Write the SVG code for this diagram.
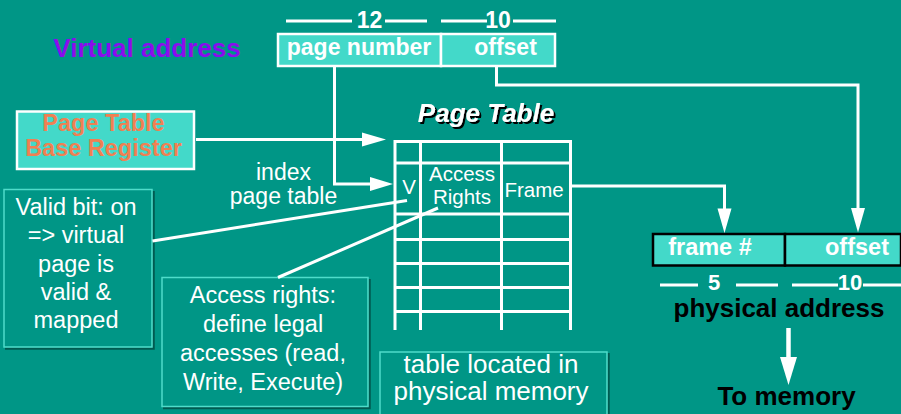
<svg xmlns="http://www.w3.org/2000/svg" width="901" height="414" viewBox="0 0 901 414">
  <defs>
    <style>
      .sans { font-family: "Liberation Sans", Arial, sans-serif; }
      .bold { font-weight: bold; }
      .w { fill: #ffffff; }
      .field { fill: #43d9c9; stroke: #ffffff; stroke-width: 2.5; }
      .pfield { fill: #43d9c9; stroke: #000000; stroke-width: 2.5; }
      .wire { fill: none; stroke: #ffffff; stroke-width: 3; }
      .grid { fill: none; stroke: #ffffff; stroke-width: 3; }
      .note { fill: #009686; stroke: #4fdcca; stroke-width: 1.5; }
      .shade { fill: none; stroke: #005a50; stroke-width: 2.5; }
      .head { fill: #ffffff; }
    </style>
    <filter id="hardShadow" x="-10%" y="-20%" width="130%" height="150%">
      <feDropShadow dx="2" dy="2" stdDeviation="0" flood-color="#000000" flood-opacity="1"/>
    </filter>
  </defs>

  <!-- background -->
  <rect x="0" y="0" width="901" height="414" fill="#009686"/>

  <!-- virtual address -->
  <g id="virtual-address-label">
    <text class="sans bold" x="147" y="56.5" font-size="26" fill="#8a0cee" text-anchor="middle">Virtual address</text>
  </g>
  <g id="virtual-address">
    <line class="wire" x1="286" y1="21" x2="352" y2="21"/>
    <line class="wire" x1="385" y1="21" x2="427" y2="21"/>
    <text class="sans bold w" x="369.5" y="27.5" font-size="23" text-anchor="middle">12</text>
    <line class="wire" x1="441" y1="21" x2="487" y2="21"/>
    <line class="wire" x1="513" y1="21" x2="556" y2="21"/>
    <text class="sans bold w" x="498" y="27.5" font-size="23" text-anchor="middle">10</text>
    <rect class="field" x="278" y="34" width="163" height="32"/>
    <rect class="field" x="441" y="34" width="114" height="32"/>
    <text class="sans bold w" x="359" y="55" font-size="23" text-anchor="middle">page number</text>
    <text class="sans bold w" x="505.5" y="55" font-size="23" text-anchor="middle">offset</text>
  </g>

  <!-- page table base register -->
  <g id="base-register">
    <rect class="field" x="17" y="111.5" width="177" height="57.5"/>
    <text class="sans bold" x="103.5" y="131" font-size="23.5" fill="#f08052" text-anchor="middle">Page Table</text>
    <text class="sans bold" x="103.5" y="155.5" font-size="23.5" fill="#f08052" text-anchor="middle">Base Register</text>
  </g>

  <!-- page table -->
  <g id="page-table">
    <text class="sans bold w" x="486" y="121.7" font-size="26" font-style="italic" text-anchor="middle" filter="url(#hardShadow)">Page Table</text>
    <path class="grid" d="M395,141.5 H572 M395,163 H572 M395,214 H572 M395,239.5 H572 M395,263.5 H572 M395,287.5 H572 M395,311.5 H572"/>
    <path class="grid" d="M395,140 V330 M420.5,141.5 V330 M501.5,141.5 V330 M570.5,140 V330"/>
    <text class="sans w" x="409" y="194" font-size="20.5" text-anchor="middle">V</text>
    <text class="sans w" x="462" y="181" font-size="20.5" text-anchor="middle">Access</text>
    <text class="sans w" x="462" y="203.5" font-size="20.5" text-anchor="middle">Rights</text>
    <text class="sans w" x="534" y="197" font-size="20.5" text-anchor="middle">Frame</text>
  </g>

  <g id="index-label">
    <text class="sans w" x="283.5" y="179.5" font-size="23" text-anchor="middle">index</text>
    <text class="sans w" x="283.5" y="203.5" font-size="23" text-anchor="middle">page table</text>
  </g>

  <!-- annotation boxes -->
  <g id="valid-bit-note">
    <polyline class="shade" points="153.5,191 153.5,348.5 5,348.5"/>
    <rect class="note" x="4" y="189.5" width="148" height="157.5"/>
    <text class="sans w" x="76" y="215" font-size="23.5" text-anchor="middle">Valid bit: on</text>
    <text class="sans w" x="76" y="243.3" font-size="23.5" text-anchor="middle">=&gt; virtual</text>
    <text class="sans w" x="76" y="271.6" font-size="23.5" text-anchor="middle">page is</text>
    <text class="sans w" x="76" y="300" font-size="23.5" text-anchor="middle">valid &amp;</text>
    <text class="sans w" x="76" y="328" font-size="23.5" text-anchor="middle">mapped</text>
  </g>

  <g id="access-rights-note">
    <polyline class="shade" points="369.5,279 369.5,408 163,408"/>
    <rect class="note" x="162" y="277.5" width="206" height="129"/>
    <text class="sans w" x="263" y="303.3" font-size="23.5" text-anchor="middle">Access rights:</text>
    <text class="sans w" x="263" y="332" font-size="23.5" text-anchor="middle">define legal</text>
    <text class="sans w" x="263" y="361.3" font-size="23.5" text-anchor="middle">accesses (read,</text>
    <text class="sans w" x="263" y="390" font-size="23.5" text-anchor="middle">Write, Execute)</text>
  </g>

  <g id="table-location-note">
    <polyline class="shade" points="608.5,353 608.5,416"/>
    <rect class="note" x="380" y="352" width="227" height="70"/>
    <text class="sans w" x="491" y="373" font-size="26" text-anchor="middle">table located in</text>
    <text class="sans w" x="491" y="400" font-size="26" text-anchor="middle">physical memory</text>
  </g>

  <!-- physical address -->
  <g id="physical-address">
    <rect class="pfield" x="653" y="234" width="132" height="31.5"/>
    <rect class="pfield" x="785" y="234" width="116" height="31.5"/>
    <text class="sans bold w" x="710" y="254.5" font-size="23.5" text-anchor="middle">frame #</text>
    <text class="sans bold w" x="857" y="254.5" font-size="23.5" text-anchor="middle">offset</text>
    <line class="wire" x1="660" y1="285" x2="698" y2="285"/>
    <line class="wire" x1="736" y1="285" x2="778" y2="285"/>
    <text class="sans bold w" x="714" y="290" font-size="22" text-anchor="middle">5</text>
    <line class="wire" x1="792" y1="285" x2="838" y2="285"/>
    <line class="wire" x1="863" y1="285" x2="901" y2="285"/>
    <text class="sans bold w" x="850" y="290" font-size="22" text-anchor="middle">10</text>
    <text class="sans bold" x="779" y="317" font-size="26" fill="#000000" text-anchor="middle">physical address</text>
  </g>

  <g id="to-memory">
    <text class="sans bold" x="786.5" y="405" font-size="26" fill="#000000" text-anchor="middle">To memory</text>
  </g>

  <!-- connectors -->
  <g id="connectors">
    <!-- base register to table -->
    <line class="wire" x1="196" y1="139.5" x2="364" y2="139.5"/>
    <polygon class="head" points="362,132.5 386,139.5 362,146.5"/>
    <!-- page number indexes the table -->
    <polyline class="wire" points="334.5,66 334.5,184 372,184"/>
    <polygon class="head" points="370,177 393,184 370,191"/>
    <!-- frame number out of the table -->
    <polyline class="wire" points="571,186 724.5,186 724.5,210"/>
    <polygon class="head" points="717.5,208.5 724.5,233 731.5,208.5"/>
    <!-- offset copied straight through -->
    <polyline class="wire" points="496.5,66 496.5,85 858,85 858,210"/>
    <polygon class="head" points="851,208 858,232.5 865,208"/>
    <!-- note pointers -->
    <line class="wire" x1="152.5" y1="241" x2="407" y2="200.5"/>
    <line class="wire" x1="278" y1="277.5" x2="438" y2="208"/>
    <!-- out to memory -->
    <line stroke="#ffffff" stroke-width="4.5" x1="788.5" y1="328" x2="788.5" y2="359"/>
    <polygon class="head" points="780,357 797,357 788.5,385"/>
  </g>
</svg>
